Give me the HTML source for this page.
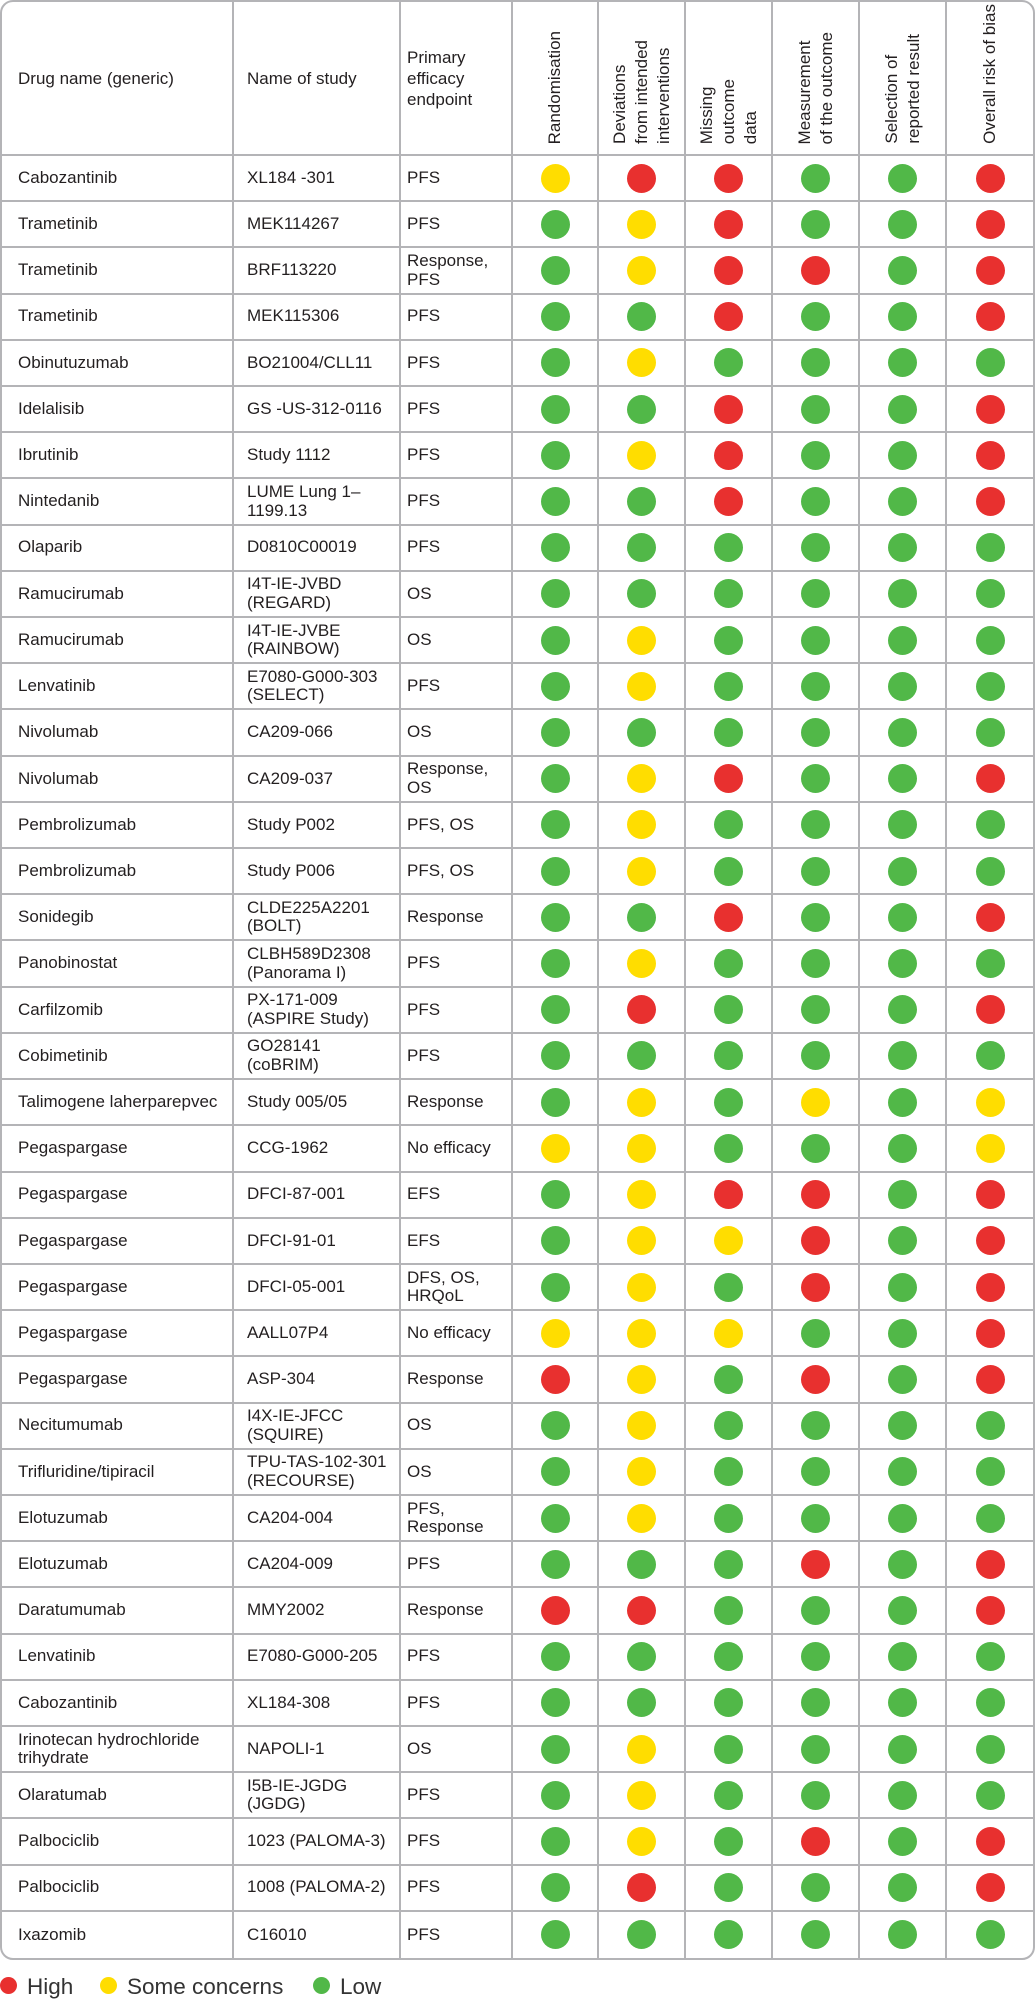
<!DOCTYPE html>
<html>
<head>
<meta charset="utf-8">
<style>
html,body{margin:0;padding:0;background:#fff;}
body{width:1035px;height:2000px;position:relative;overflow:hidden;font-family:"Liberation Sans",Arial,sans-serif;color:#231f20;}
.g{position:absolute;left:0;top:0;width:1035px;height:1960px;box-sizing:border-box;border:2px solid #b4b4b7;border-radius:13px;overflow:hidden;display:grid;grid-template-columns:232px 167px 112px 86px 87px 87px 87px 87px 86px;grid-template-rows:154px repeat(39,1fr);}
.row{display:contents;}
.row>div{border-right:2px solid #b4b4b7;border-bottom:2px solid #b4b4b7;display:flex;align-items:center;box-sizing:border-box;font-size:17px;line-height:18.5px;white-space:nowrap;min-width:0;}
.row>div:last-child{border-right:0;}
.row:last-child>div{border-bottom:0;}
.row>div:nth-child(1){padding-left:16px;}
.row>div:nth-child(2){padding-left:13px;}
.row>div:nth-child(3){padding-left:6px;}
.row>div:nth-child(n+4){justify-content:center;}
.h>div{line-height:21px;}
.h>div:nth-child(n+4){align-items:flex-end;padding-bottom:10px;}
.v{writing-mode:vertical-rl;transform:rotate(180deg);line-height:22px;white-space:nowrap;text-align:start;}
.c{width:29px;height:29px;border-radius:50%;}
.R .c,.c.R{background:#e8302f;}
.c.Y{background:#ffdd00;}
.c.G{background:#51b848;}
.lg{position:absolute;top:1974px;font-size:22.5px;line-height:26px;color:#333;white-space:nowrap;}
.ld{position:absolute;top:1976.5px;width:17px;height:17px;border-radius:50%;}
</style>
</head>
<body>
<div class="g">
<div class="row h"><div>Drug name (generic)</div><div>Name of study</div><div>Primary<br>efficacy<br>endpoint</div><div><span class="v">Randomisation</span></div><div><span class="v">Deviations<br>from intended<br>interventions</span></div><div><span class="v">Missing<br>outcome<br>data</span></div><div><span class="v">Measurement<br>of the outcome</span></div><div><span class="v">Selection of<br>reported result</span></div><div><span class="v">Overall risk of bias</span></div></div>

<div class="row"><div>Cabozantinib</div><div>XL184 -301</div><div>PFS</div><div><span class="c Y"></span></div><div><span class="c R"></span></div><div><span class="c R"></span></div><div><span class="c G"></span></div><div><span class="c G"></span></div><div><span class="c R"></span></div></div>
<div class="row"><div>Trametinib</div><div>MEK114267</div><div>PFS</div><div><span class="c G"></span></div><div><span class="c Y"></span></div><div><span class="c R"></span></div><div><span class="c G"></span></div><div><span class="c G"></span></div><div><span class="c R"></span></div></div>
<div class="row"><div>Trametinib</div><div>BRF113220</div><div>Response,<br>PFS</div><div><span class="c G"></span></div><div><span class="c Y"></span></div><div><span class="c R"></span></div><div><span class="c R"></span></div><div><span class="c G"></span></div><div><span class="c R"></span></div></div>
<div class="row"><div>Trametinib</div><div>MEK115306</div><div>PFS</div><div><span class="c G"></span></div><div><span class="c G"></span></div><div><span class="c R"></span></div><div><span class="c G"></span></div><div><span class="c G"></span></div><div><span class="c R"></span></div></div>
<div class="row"><div>Obinutuzumab</div><div>BO21004/CLL11</div><div>PFS</div><div><span class="c G"></span></div><div><span class="c Y"></span></div><div><span class="c G"></span></div><div><span class="c G"></span></div><div><span class="c G"></span></div><div><span class="c G"></span></div></div>
<div class="row"><div>Idelalisib</div><div>GS -US-312-0116</div><div>PFS</div><div><span class="c G"></span></div><div><span class="c G"></span></div><div><span class="c R"></span></div><div><span class="c G"></span></div><div><span class="c G"></span></div><div><span class="c R"></span></div></div>
<div class="row"><div>Ibrutinib</div><div>Study 1112</div><div>PFS</div><div><span class="c G"></span></div><div><span class="c Y"></span></div><div><span class="c R"></span></div><div><span class="c G"></span></div><div><span class="c G"></span></div><div><span class="c R"></span></div></div>
<div class="row"><div>Nintedanib</div><div>LUME Lung 1–<br>1199.13</div><div>PFS</div><div><span class="c G"></span></div><div><span class="c G"></span></div><div><span class="c R"></span></div><div><span class="c G"></span></div><div><span class="c G"></span></div><div><span class="c R"></span></div></div>
<div class="row"><div>Olaparib</div><div>D0810C00019</div><div>PFS</div><div><span class="c G"></span></div><div><span class="c G"></span></div><div><span class="c G"></span></div><div><span class="c G"></span></div><div><span class="c G"></span></div><div><span class="c G"></span></div></div>
<div class="row"><div>Ramucirumab</div><div>I4T-IE-JVBD<br>(REGARD)</div><div>OS</div><div><span class="c G"></span></div><div><span class="c G"></span></div><div><span class="c G"></span></div><div><span class="c G"></span></div><div><span class="c G"></span></div><div><span class="c G"></span></div></div>
<div class="row"><div>Ramucirumab</div><div>I4T-IE-JVBE<br>(RAINBOW)</div><div>OS</div><div><span class="c G"></span></div><div><span class="c Y"></span></div><div><span class="c G"></span></div><div><span class="c G"></span></div><div><span class="c G"></span></div><div><span class="c G"></span></div></div>
<div class="row"><div>Lenvatinib</div><div>E7080-G000-303<br>(SELECT)</div><div>PFS</div><div><span class="c G"></span></div><div><span class="c Y"></span></div><div><span class="c G"></span></div><div><span class="c G"></span></div><div><span class="c G"></span></div><div><span class="c G"></span></div></div>
<div class="row"><div>Nivolumab</div><div>CA209-066</div><div>OS</div><div><span class="c G"></span></div><div><span class="c G"></span></div><div><span class="c G"></span></div><div><span class="c G"></span></div><div><span class="c G"></span></div><div><span class="c G"></span></div></div>
<div class="row"><div>Nivolumab</div><div>CA209-037</div><div>Response,<br>OS</div><div><span class="c G"></span></div><div><span class="c Y"></span></div><div><span class="c R"></span></div><div><span class="c G"></span></div><div><span class="c G"></span></div><div><span class="c R"></span></div></div>
<div class="row"><div>Pembrolizumab</div><div>Study P002</div><div>PFS, OS</div><div><span class="c G"></span></div><div><span class="c Y"></span></div><div><span class="c G"></span></div><div><span class="c G"></span></div><div><span class="c G"></span></div><div><span class="c G"></span></div></div>
<div class="row"><div>Pembrolizumab</div><div>Study P006</div><div>PFS, OS</div><div><span class="c G"></span></div><div><span class="c Y"></span></div><div><span class="c G"></span></div><div><span class="c G"></span></div><div><span class="c G"></span></div><div><span class="c G"></span></div></div>
<div class="row"><div>Sonidegib</div><div>CLDE225A2201<br>(BOLT)</div><div>Response</div><div><span class="c G"></span></div><div><span class="c G"></span></div><div><span class="c R"></span></div><div><span class="c G"></span></div><div><span class="c G"></span></div><div><span class="c R"></span></div></div>
<div class="row"><div>Panobinostat</div><div>CLBH589D2308<br>(Panorama I)</div><div>PFS</div><div><span class="c G"></span></div><div><span class="c Y"></span></div><div><span class="c G"></span></div><div><span class="c G"></span></div><div><span class="c G"></span></div><div><span class="c G"></span></div></div>
<div class="row"><div>Carfilzomib</div><div>PX-171-009<br>(ASPIRE Study)</div><div>PFS</div><div><span class="c G"></span></div><div><span class="c R"></span></div><div><span class="c G"></span></div><div><span class="c G"></span></div><div><span class="c G"></span></div><div><span class="c R"></span></div></div>
<div class="row"><div>Cobimetinib</div><div>GO28141<br>(coBRIM)</div><div>PFS</div><div><span class="c G"></span></div><div><span class="c G"></span></div><div><span class="c G"></span></div><div><span class="c G"></span></div><div><span class="c G"></span></div><div><span class="c G"></span></div></div>
<div class="row"><div>Talimogene laherparepvec</div><div>Study 005/05</div><div>Response</div><div><span class="c G"></span></div><div><span class="c Y"></span></div><div><span class="c G"></span></div><div><span class="c Y"></span></div><div><span class="c G"></span></div><div><span class="c Y"></span></div></div>
<div class="row"><div>Pegaspargase</div><div>CCG-1962</div><div>No efficacy</div><div><span class="c Y"></span></div><div><span class="c Y"></span></div><div><span class="c G"></span></div><div><span class="c G"></span></div><div><span class="c G"></span></div><div><span class="c Y"></span></div></div>
<div class="row"><div>Pegaspargase</div><div>DFCI-87-001</div><div>EFS</div><div><span class="c G"></span></div><div><span class="c Y"></span></div><div><span class="c R"></span></div><div><span class="c R"></span></div><div><span class="c G"></span></div><div><span class="c R"></span></div></div>
<div class="row"><div>Pegaspargase</div><div>DFCI-91-01</div><div>EFS</div><div><span class="c G"></span></div><div><span class="c Y"></span></div><div><span class="c Y"></span></div><div><span class="c R"></span></div><div><span class="c G"></span></div><div><span class="c R"></span></div></div>
<div class="row"><div>Pegaspargase</div><div>DFCI-05-001</div><div>DFS, OS,<br>HRQoL</div><div><span class="c G"></span></div><div><span class="c Y"></span></div><div><span class="c G"></span></div><div><span class="c R"></span></div><div><span class="c G"></span></div><div><span class="c R"></span></div></div>
<div class="row"><div>Pegaspargase</div><div>AALL07P4</div><div>No efficacy</div><div><span class="c Y"></span></div><div><span class="c Y"></span></div><div><span class="c Y"></span></div><div><span class="c G"></span></div><div><span class="c G"></span></div><div><span class="c R"></span></div></div>
<div class="row"><div>Pegaspargase</div><div>ASP-304</div><div>Response</div><div><span class="c R"></span></div><div><span class="c Y"></span></div><div><span class="c G"></span></div><div><span class="c R"></span></div><div><span class="c G"></span></div><div><span class="c R"></span></div></div>
<div class="row"><div>Necitumumab</div><div>I4X-IE-JFCC<br>(SQUIRE)</div><div>OS</div><div><span class="c G"></span></div><div><span class="c Y"></span></div><div><span class="c G"></span></div><div><span class="c G"></span></div><div><span class="c G"></span></div><div><span class="c G"></span></div></div>
<div class="row"><div>Trifluridine/tipiracil</div><div>TPU-TAS-102-301<br>(RECOURSE)</div><div>OS</div><div><span class="c G"></span></div><div><span class="c Y"></span></div><div><span class="c G"></span></div><div><span class="c G"></span></div><div><span class="c G"></span></div><div><span class="c G"></span></div></div>
<div class="row"><div>Elotuzumab</div><div>CA204-004</div><div>PFS,<br>Response</div><div><span class="c G"></span></div><div><span class="c Y"></span></div><div><span class="c G"></span></div><div><span class="c G"></span></div><div><span class="c G"></span></div><div><span class="c G"></span></div></div>
<div class="row"><div>Elotuzumab</div><div>CA204-009</div><div>PFS</div><div><span class="c G"></span></div><div><span class="c G"></span></div><div><span class="c G"></span></div><div><span class="c R"></span></div><div><span class="c G"></span></div><div><span class="c R"></span></div></div>
<div class="row"><div>Daratumumab</div><div>MMY2002</div><div>Response</div><div><span class="c R"></span></div><div><span class="c R"></span></div><div><span class="c G"></span></div><div><span class="c G"></span></div><div><span class="c G"></span></div><div><span class="c R"></span></div></div>
<div class="row"><div>Lenvatinib</div><div>E7080-G000-205</div><div>PFS</div><div><span class="c G"></span></div><div><span class="c G"></span></div><div><span class="c G"></span></div><div><span class="c G"></span></div><div><span class="c G"></span></div><div><span class="c G"></span></div></div>
<div class="row"><div>Cabozantinib</div><div>XL184-308</div><div>PFS</div><div><span class="c G"></span></div><div><span class="c G"></span></div><div><span class="c G"></span></div><div><span class="c G"></span></div><div><span class="c G"></span></div><div><span class="c G"></span></div></div>
<div class="row"><div>Irinotecan hydrochloride<br>trihydrate</div><div>NAPOLI-1</div><div>OS</div><div><span class="c G"></span></div><div><span class="c Y"></span></div><div><span class="c G"></span></div><div><span class="c G"></span></div><div><span class="c G"></span></div><div><span class="c G"></span></div></div>
<div class="row"><div>Olaratumab</div><div>I5B-IE-JGDG<br>(JGDG)</div><div>PFS</div><div><span class="c G"></span></div><div><span class="c Y"></span></div><div><span class="c G"></span></div><div><span class="c G"></span></div><div><span class="c G"></span></div><div><span class="c G"></span></div></div>
<div class="row"><div>Palbociclib</div><div>1023 (PALOMA-3)</div><div>PFS</div><div><span class="c G"></span></div><div><span class="c Y"></span></div><div><span class="c G"></span></div><div><span class="c R"></span></div><div><span class="c G"></span></div><div><span class="c R"></span></div></div>
<div class="row"><div>Palbociclib</div><div>1008 (PALOMA-2)</div><div>PFS</div><div><span class="c G"></span></div><div><span class="c R"></span></div><div><span class="c G"></span></div><div><span class="c G"></span></div><div><span class="c G"></span></div><div><span class="c R"></span></div></div>
<div class="row"><div>Ixazomib</div><div>C16010</div><div>PFS</div><div><span class="c G"></span></div><div><span class="c G"></span></div><div><span class="c G"></span></div><div><span class="c G"></span></div><div><span class="c G"></span></div><div><span class="c G"></span></div></div>
</div>

<span class="ld" style="left:0;background:#e8302f;"></span>
<span class="lg" style="left:27px;">High</span>
<span class="ld" style="left:100px;background:#ffdd00;"></span>
<span class="lg" style="left:127px;">Some concerns</span>
<span class="ld" style="left:313px;background:#51b848;"></span>
<span class="lg" style="left:340px;">Low</span>
</body>
</html>
